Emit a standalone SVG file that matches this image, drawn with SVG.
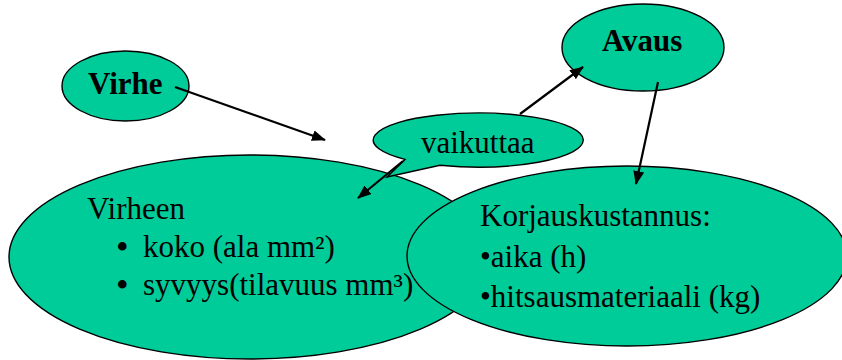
<svg xmlns="http://www.w3.org/2000/svg" width="842" height="360" viewBox="0 0 842 360">
<defs>
<style>
.shape{fill:#00CC99;stroke:#000;stroke-width:1.4}
.t{font-family:"Liberation Serif","Times New Roman",serif;font-size:31px;fill:#000}
.b{font-weight:bold}
.bul{font-size:36px}
.conn{stroke:#000;stroke-width:2.2;fill:none;marker-end:url(#ah)}
</style>
<marker id="ah" markerWidth="14" markerHeight="11" refX="13" refY="5.5" orient="auto" markerUnits="userSpaceOnUse">
<path d="M0,0 L14,5.5 L0,11 Z" fill="#000"/>
</marker>
</defs>
<rect width="842" height="360" fill="#fff"/>
<g id="virheen">
<ellipse class="shape" cx="250" cy="257" rx="241" ry="102"/>
<text class="t" x="87" y="219">Virheen</text>
<text class="t bul" x="116" y="259">•</text>
<text class="t" x="143" y="257">koko (ala mm²)</text>
<text class="t bul" x="116" y="297">•</text>
<text class="t" x="143" y="295">syvyys(tilavuus mm³)</text>
</g>
<g id="korjaus">
<ellipse class="shape" cx="627" cy="256" rx="220" ry="90"/>
<text class="t" x="480" y="226">Korjauskustannus:</text>
<text class="t" x="480" y="267">•aika (h)</text>
<text class="t" x="480" y="307">•hitsausmateriaali (kg)</text>
</g>
<g id="virhe">
<ellipse class="shape" cx="125.5" cy="86" rx="63.5" ry="35"/>
<text class="t b" x="88" y="94">Virhe</text>
</g>
<g id="avaus">
<ellipse class="shape" cx="643" cy="47.5" rx="81" ry="43.5"/>
<text class="t b" x="602" y="51">Avaus</text>
</g>
<g id="vaikuttaa">
<path class="shape" d="M405,159.4 L387,177 L440,165.2 A105,27 0 1 0 405,159.4 Z"/>
<text class="t" x="421" y="153">vaikuttaa</text>
</g>
<g id="connectors">
<line class="conn" x1="175" y1="87" x2="325" y2="140"/>
<line class="conn" x1="403" y1="161" x2="358" y2="198"/>
<line class="conn" x1="520" y1="114" x2="583" y2="67"/>
<line class="conn" x1="658" y1="82" x2="636" y2="184"/>
</g>
</svg>
